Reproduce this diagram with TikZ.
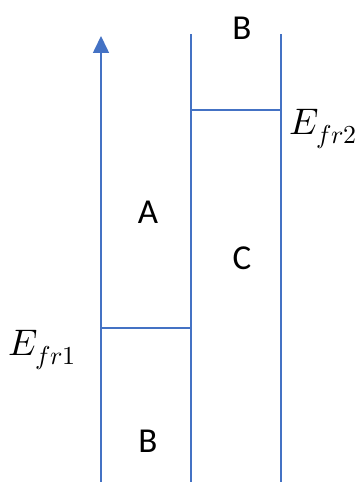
\documentclass[tikz,border=0pt]{standalone}
\usepackage{fontspec}
\usepackage{unicode-math}
\setsansfont{Carlito}
\usetikzlibrary{arrows.meta,positioning}

\begin{document}
\begin{tikzpicture}[x=1pt,y=1pt,
  wall/.style={draw=wallblue,line width=1.6pt},
  arrow/.style={wall,-{Triangle[width=16pt,length=17pt]}},
  region/.style={font=\sffamily\fontsize{35}{40}\selectfont,inner sep=0pt},
  level/.style={font=\fontsize{37}{42}\selectfont,inner sep=0pt,anchor=west}]
\definecolor{wallblue}{RGB}{68,114,196}
\useasboundingbox (0,0) rectangle (358,482);
\coordinate (ab) at (101,0);   \coordinate (at) at (101,446);
\coordinate (mb) at (191,0);   \coordinate (mt) at (191,448);
\coordinate (rb) at (281,0);   \coordinate (rt) at (281,448);
\coordinate (lo1) at (101,154); \coordinate (lo2) at (191,154);
\coordinate (hi1) at (191,372); \coordinate (hi2) at (281,372);
\draw[arrow] (ab) -- (at);
\draw[wall] (mb) -- (mt); \draw[wall] (rb) -- (rt);
\draw[wall] (lo1) -- (lo2); \draw[wall] (hi1) -- (hi2);
\node[region] (btop) at (242,454) {B};
\node[region] (a) at (148,270) {A};
\node[region] (c) at (242,224) {C};
\node[region] (bbot) at (148,41) {B};
\node[level] (efr1) at (8,132) {$E_{fr1}$};
\node[level] (efr2) at (289,353) {$E_{fr2}$};
\end{tikzpicture}
\end{document}
